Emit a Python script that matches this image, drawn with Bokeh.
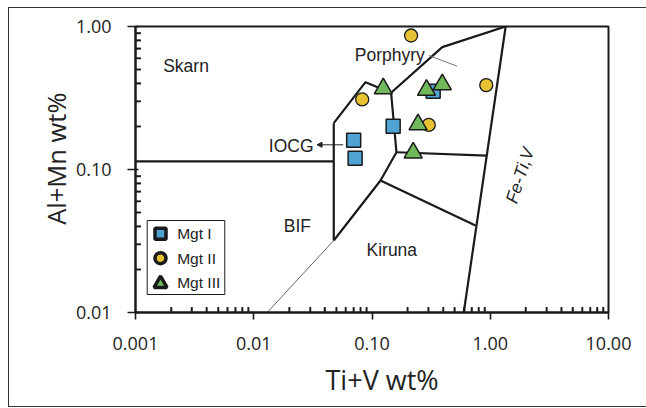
import math
from bokeh.plotting import figure
from bokeh.models import (Label, FixedTicker, CustomJSTickFormatter, Title,
                          Arrow, NormalHead, InlineStyleSheet)
from bokeh.embed import file_html
from bokeh.resources import INLINE

# ---------------- data ----------------
mgt1_x = [0.070, 0.072, 0.151, 0.329]
mgt1_y = [0.160, 0.120, 0.201, 0.353]
mgt2_x = [0.0826, 0.214, 0.302, 0.925]
mgt2_y = [0.309, 0.865, 0.205, 0.389]
mgt3_x = [0.1245, 0.289, 0.393, 0.245, 0.223]
mgt3_y = [0.368, 0.359, 0.393, 0.206, 0.131]

series_names = ["Mgt I", "Mgt II", "Mgt III"]

# field boundaries (thick)
skarn_iocg_x = [0.001, 0.0475]
skarn_iocg_y = [0.114, 0.114]
bif_x = [0.0475, 0.0475]
bif_y = [0.0319, 0.211]
upper_x = [0.0475, 0.0881, 0.145, 0.393, 1.35]
upper_y = [0.211, 0.408, 0.344, 0.717, 1.0]
inner_x = [0.145, 0.161, 0.118, 0.0475]
inner_y = [0.344, 0.132, 0.0838, 0.0319]
split1_x = [0.161, 0.925]
split1_y = [0.132, 0.125]
split2_x = [0.118, 0.750]
split2_y = [0.0838, 0.0406]
feti_x = [1.35, 0.597]
feti_y = [1.0, 0.01]
# thin lines
thin_x = [0.0475, 0.0130]
thin_y = [0.0319, 0.01]
porph_lead_x = [0.302, 0.525]
porph_lead_y = [0.627, 0.528]

x_ticks = [0.001, 0.01, 0.1, 1.0, 10.0]
x_tick_labels = ["0.001", "0.01", "0.10", "1.00", "10.00"]
y_ticks = [0.01, 0.1, 1.0]
y_tick_labels = ["0.01", "0.10", "1.00"]

# ---------------- layout helpers ----------------
FL, FR, FT, FB = 135, 608, 26, 312
W, H = 646, 408
def px2x(px):
    return 10 ** ((px - FL) / ((FR - FL) / 4.0) - 3)
def px2y(py):
    return 10 ** (-(py - FT) / ((FB - FT) / 2.0))

BLUE = "#4FA3D3"
YELLOW = "#E7C233"
GREEN = "#70B85A"
DARK = "#1a1a1a"
TXT = "#222222"
AXFONT = "Open Sans"

frame_css = InlineStyleSheet(css="""
:host { position: relative; }
:host::after {
  content: ""; position: absolute; left: 8px; top: 7px; right: -6px; bottom: 1px;
  border-left: 1.5px solid #333; border-top: 1.5px solid #333; border-bottom: 1.5px solid #333;
  border-right: none;
  pointer-events: none; box-sizing: border-box;
}
""")

p = figure(width=W, height=H, x_axis_type="log", y_axis_type="log",
           x_range=(0.001, 10), y_range=(0.01, 1),
           output_backend="svg", toolbar_location=None,
           min_border_left=FL, min_border_right=W - FR,
           min_border_top=FT, min_border_bottom=H - FB,
           stylesheets=[frame_css])
p.grid.visible = False
p.outline_line_color = DARK
p.outline_line_width = 2
p.background_fill_color = "white"
p.border_fill_color = "white"

def tickfmt(ticks, labels):
    return CustomJSTickFormatter(args=dict(tv=ticks, tl=labels), code="""
        for (let i = 0; i < tv.length; i++) {
            if (Math.abs(Math.log10(tv[i]) - Math.log10(tick)) < 1e-6) return tl[i];
        }
        return '';
    """)

def minor(lo, hi):
    return [float(m) * 10.0 ** e for e in range(lo, hi) for m in range(2, 10)]

x_minor = minor(-3, 1)
y_minor = minor(-2, 0)
p.xaxis.ticker = FixedTicker(ticks=x_ticks, minor_ticks=x_minor)
p.yaxis.ticker = FixedTicker(ticks=y_ticks, minor_ticks=y_minor)
p.xaxis.formatter = tickfmt(x_ticks, x_tick_labels)
p.yaxis.formatter = tickfmt(y_ticks, y_tick_labels)

for ax in (p.xaxis, p.yaxis):
    ax.axis_line_width = 2
    ax.axis_line_color = DARK
    ax.major_tick_line_width = 1.6
    ax.major_tick_line_color = DARK
    ax.minor_tick_line_width = 1.5
    ax.minor_tick_line_color = DARK
    ax.minor_tick_in = 5
    ax.minor_tick_out = 0
    ax.major_label_text_font = AXFONT
    ax.major_label_text_font_size = "18px"
    ax.major_label_text_color = TXT
p.xaxis.major_tick_out = 7
p.xaxis.major_tick_in = 0
p.xaxis.major_label_standoff = 17
p.yaxis.major_tick_out = 8
p.yaxis.major_tick_in = 3
p.yaxis.major_label_standoff = 16

# inward minor ticks, drawn through the same scales
x_tick_top = px2y(FB - 5.5)
p.segment(x0=x_minor, y0=[0.01] * len(x_minor), x1=x_minor, y1=[x_tick_top] * len(x_minor),
          line_color=DARK, line_width=1.6)
y_tick_right = px2x(FL + 5.5)
p.segment(x0=[0.001] * len(y_minor), y0=y_minor, x1=[y_tick_right] * len(y_minor), y1=y_minor,
          line_color=DARK, line_width=1.6)

# axis titles as panel titles (allow exact offsets)
p.add_layout(Title(text="Ti+V wt%", align="left", offset=190, text_font=AXFONT,
                   text_font_size="27px", text_font_style="normal", text_color=TXT,
                   standoff=12), "below")
p.add_layout(Title(text="Al+Mn wt%", align="right", offset=66, text_font=AXFONT,
                   text_font_size="25.5px", text_font_style="normal", text_color=TXT,
                   standoff=0), "left")

# ---------------- boundaries ----------------
for xs, ys in [(skarn_iocg_x, skarn_iocg_y), (bif_x, bif_y), (upper_x, upper_y),
               (inner_x, inner_y), (split1_x, split1_y), (split2_x, split2_y),
               (feti_x, feti_y)]:
    p.line(xs, ys, line_color=DARK, line_width=2.2)
p.line(thin_x, thin_y, line_color="#555555", line_width=0.9)
p.line(porph_lead_x, porph_lead_y, line_color="#666666", line_width=0.9)

# ---------------- points ----------------
p.scatter(mgt1_x, mgt1_y, marker="square", size=14, fill_color=BLUE,
          line_color=DARK, line_width=1.5)
p.scatter(mgt2_x, mgt2_y, marker="circle", size=13, fill_color=YELLOW,
          line_color=DARK, line_width=1.3)
p.scatter(mgt3_x, mgt3_y, marker="triangle", size=18, fill_color=GREEN,
          line_color=DARK, line_width=1.5)

# ---------------- field labels ----------------
def lab(txt, x, y, size="17.5px", align="left", angle=0.0, style="normal", font="Liberation Sans"):
    p.add_layout(Label(x=x, y=y, text=txt, text_font=font, text_font_size=size,
                       text_color=TXT, text_align=align, text_baseline="middle",
                       angle=angle, text_font_style=style))

lab("Skarn", px2x(162.7), px2y(65))
lab("Porphyry", px2x(354.3), px2y(54))
lab("IOCG", px2x(268.3), px2y(145))
lab("BIF", px2x(283.3), px2y(225))
lab("Kiruna", px2x(366), px2y(249))
lab("Fe-Ti,V", px2x(519.3), px2y(175), align="center", angle=math.radians(72), style="italic")

p.add_layout(Arrow(end=NormalHead(size=5, fill_color=TXT, line_color=TXT, line_width=1),
                   x_start=px2x(342.7), y_start=px2y(144.3),
                   x_end=px2x(316.5), y_end=px2y(144.3),
                   line_color=TXT, line_width=1))

# ---------------- legend (manual) ----------------
p.quad(left=[px2x(146.7)], right=[px2x(224.3)], top=[px2y(220)], bottom=[px2y(294)],
       fill_color="white", line_color=DARK, line_width=1)
leg_y = [233.3, 257.7, 281.7]
leg_markers = [("square", BLUE, 11), ("circle", YELLOW, 11), ("triangle", GREEN, 13)]
for name, yy, (mk, col, sz) in zip(series_names, leg_y, leg_markers):
    p.scatter([px2x(160)], [px2y(yy if mk != "triangle" else yy + 1.5)], marker=mk, size=sz,
              fill_color=col, line_color=DARK, line_width=3.5)
    lab(name, px2x(176.7), px2y(yy), size="15.5px")

open("out.html", "w").write(file_html(p, INLINE))
